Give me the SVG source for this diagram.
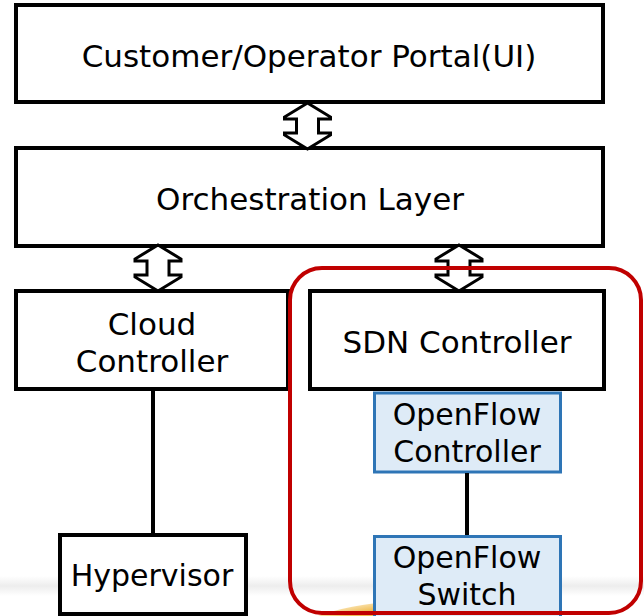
<svg xmlns="http://www.w3.org/2000/svg" width="644" height="616" viewBox="0 0 644 616">
  <defs>
    <linearGradient id="band" x1="0" y1="0" x2="0" y2="1">
      <stop offset="0" stop-color="#ffffff"/>
      <stop offset="0.5" stop-color="#ededed"/>
      <stop offset="1" stop-color="#ffffff"/>
    </linearGradient>
    <radialGradient id="blob" cx="0.5" cy="0.5" r="0.5">
      <stop offset="0" stop-color="#e39a20"/>
      <stop offset="0.85" stop-color="#f0bd55"/>
      <stop offset="1" stop-color="#f8dca0"/>
    </radialGradient>
    <path id="dbl" d="M0,0 L23,14 L23,16 L11,16 L11,30 L23,30 L23,32 L0,46 L-23,32 L-23,30 L-11,30 L-11,16 L-23,16 L-23,14 Z"/>
  </defs>
  <style>
    .box { fill: #ffffff; stroke: #000000; stroke-width: 4; }
    .blue { fill: #deebf7; stroke: #2e75b6; stroke-width: 3; }
    .lbl { font-family: "DejaVu Sans", Verdana, sans-serif; font-size: 31px; fill: #000000; text-anchor: middle; }
    .lbl2 { font-family: "DejaVu Sans", Verdana, sans-serif; font-size: 30px; fill: #000000; text-anchor: middle; }
    .arrow { fill: #ffffff; stroke: #000000; stroke-width: 3; stroke-linejoin: miter; }
    .conn { stroke: #000000; stroke-width: 4; fill: none; }
  </style>
  <rect x="0" y="0" width="644" height="616" fill="#ffffff"/>
  <rect x="0" y="576" width="644" height="20" fill="url(#band)"/>
  <ellipse cx="430" cy="640" rx="140" ry="40" fill="url(#blob)"/>

  <g id="portal">
    <rect class="box" x="16" y="5" width="587" height="97"/>
    <text class="lbl" x="309" y="67">Customer/Operator Portal(UI)</text>
  </g>
  <g id="orchestration">
    <rect class="box" x="16" y="148" width="587" height="98"/>
    <text class="lbl" x="310" y="210">Orchestration Layer</text>
  </g>
  <g id="cloud-controller">
    <rect class="box" x="16" y="291" width="272" height="98"/>
    <text class="lbl" x="152" y="335">Cloud</text>
    <text class="lbl" x="152" y="372">Controller</text>
  </g>
  <g id="hypervisor">
    <rect class="box" x="60" y="535" width="186" height="79"/>
    <text class="lbl2" x="152" y="586">Hypervisor</text>
  </g>
  <g id="openflow-controller">
    <rect class="blue" x="374.5" y="393" width="186" height="79"/>
    <text class="lbl2" x="467" y="425">OpenFlow</text>
    <text class="lbl2" x="467" y="462">Controller</text>
  </g>
  <g id="sdn-controller">
    <rect class="box" x="310" y="291" width="294" height="98"/>
    <text class="lbl" x="457" y="353">SDN Controller</text>
  </g>
  <g id="openflow-switch">
    <rect class="blue" x="374.5" y="536.5" width="186" height="90"/>
    <text class="lbl2" x="467" y="568">OpenFlow</text>
    <text class="lbl2" x="467" y="605">Switch</text>
  </g>

  <g id="connectors">
    <line class="conn" x1="153" y1="391" x2="153" y2="535"/>
    <line class="conn" x1="467" y1="473" x2="467" y2="535"/>
    <use href="#dbl" class="arrow" x="307.5" y="103"/>
    <use href="#dbl" class="arrow" x="158" y="245"/>
    <use href="#dbl" class="arrow" x="459" y="245"/>
  </g>

  <g id="sdn-group">
    <rect x="290" y="268" width="351" height="345" rx="32" ry="32" fill="none" stroke="#c00000" stroke-width="4"/>
  </g>
</svg>
